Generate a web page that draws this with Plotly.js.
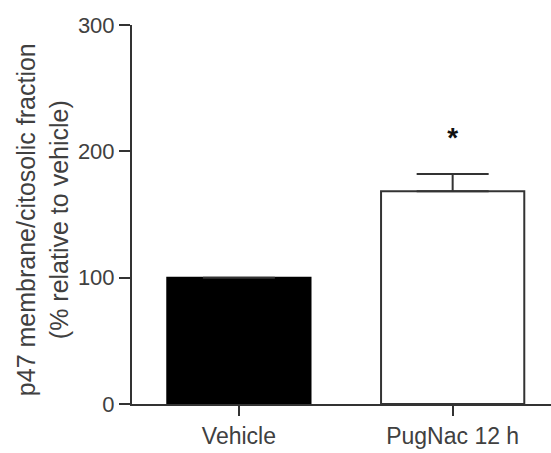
<!DOCTYPE html>
<html>
<head>
<meta charset="utf-8">
<script src="https://cdn.plot.ly/plotly-3.0.1.min.js"></script>
<style>html,body{margin:0;padding:0;background:#fff;}#chart{width:551px;height:453px;}</style>
</head>
<body>
<div id="chart"></div>
<script>
var categories = ["Vehicle", "PugNac 12 h"];
var values = [100, 168.5];
var errors = [0, 13.5];
var sigLabels = ["", "<b>*</b>"];
var sigY = [null, 209];
var yTicks = [0, 100, 200, 300];
var yTitle = "p47 membrane/citosolic fraction<br>(% relative to vehicle)";

var fillColors = ["#000000", "#ffffff"];
var ink = "#333333";

var bars = {
  type: "bar",
  x: categories,
  y: values,
  width: 0.67,
  marker: {color: fillColors, line: {color: ["#000000", ink], width: 2}},
  error_y: {type: "data", array: errors, arrayminus: errors.map(function(){return 0;}), symmetric: false,
            color: ink, thickness: 2, width: 36, visible: true},
  hoverinfo: "none",
  showlegend: false
};
var stars = {
  type: "scatter",
  mode: "text",
  x: categories,
  y: sigY,
  text: sigLabels,
  textposition: "middle center",
  textfont: {family: "Liberation Sans, Arial, sans-serif", size: 28, color: "#111"},
  hoverinfo: "none",
  showlegend: false,
  cliponaxis: false
};

var layout = {
  width: 551, height: 453,
  margin: {l: 132, r: 0, t: 25, b: 49, pad: 0},
  paper_bgcolor: "#fff", plot_bgcolor: "#fff",
  font: {family: "Liberation Sans, Arial, sans-serif", size: 22, color: "#404040"},
  xaxis: {type: "category", range: [-0.5, 1.46], showline: true, linecolor: ink, linewidth: 2,
          ticks: "outside", ticklen: 10, tickwidth: 2, tickcolor: ink, showgrid: false, zeroline: false,
          tickfont: {size: 23}, fixedrange: true},
  yaxis: {range: [0, 300], tickvals: yTicks, ticktext: yTicks.map(String), showline: true, linecolor: ink, linewidth: 2,
          ticks: "outside", ticklen: 11, tickwidth: 2, tickcolor: ink, showgrid: false, zeroline: false,
          tickfont: {size: 22}, fixedrange: true},
  annotations: [{
    text: yTitle, xref: "paper", yref: "paper", x: -0.213, y: 0.487,
    xanchor: "center", yanchor: "middle", textangle: -90, showarrow: false,
    font: {size: 25, color: "#404040"}
  }]
};

Plotly.newPlot("chart", [bars, stars], layout, {staticPlot: true, displayModeBar: false});
</script>
</body>
</html>
